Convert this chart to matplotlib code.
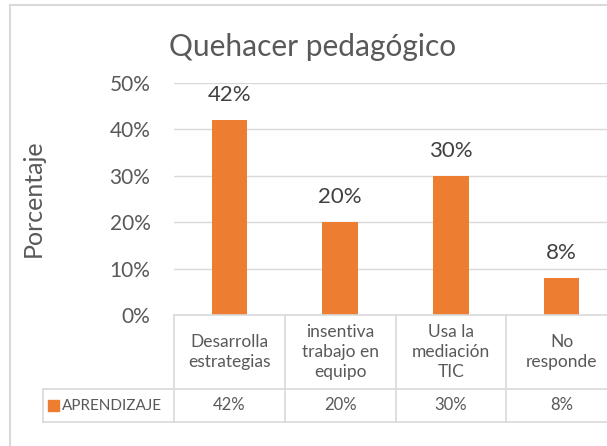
import matplotlib
matplotlib.use("Agg")
import matplotlib.pyplot as plt
from matplotlib.transforms import blended_transform_factory
from matplotlib.lines import Line2D
from matplotlib.patches import Rectangle

categories = ["Desarrolla\nestrategias", "insentiva\ntrabajo en\nequipo",
              "Usa la\nmediación\nTIC", "No\nresponde"]
values = [42, 20, 30, 8]
series_name = "APRENDIZAJE"
yticks = [0, 10, 20, 30, 40, 50]

W, H = 607, 446
plt.rcParams["font.family"] = ["Lato", "DejaVu Sans"]
fig = plt.figure(figsize=(W / 100, H / 100), dpi=100)

orange = "#ED7D31"
grid_c = "#D9D9D9"
text_c = "#595959"


def fx(px):
    return px / W


def fy(py):
    return 1 - py / H


# plot area in pixels (right side runs past the picture edge)
left, right, top, bottom = 174, 617, 83, 315
ax = fig.add_axes([fx(left), fy(bottom), fx(right - left), (bottom - top) / H])
x = list(range(len(values)))
ax.bar(x, values, width=0.32, color=orange, zorder=3)
ax.set_xlim(-0.5, len(values) - 0.5)
ax.set_ylim(0, 50)
ax.set_yticks(yticks)
ax.set_yticklabels([f"{t}%" for t in yticks])
ax.tick_params(axis="y", length=0, pad=17, labelsize=15, labelcolor=text_c)
ax.set_xticks([])
for s in ax.spines.values():
    s.set_visible(False)
ax.yaxis.grid(True, color=grid_c, linewidth=1)
ax.set_axisbelow(True)

for xi, v in zip(x, values):
    ax.annotate(f"{v}%", (xi, v), xytext=(0, 18), textcoords="offset points",
                ha="center", va="center", fontsize=16, color="#404040")

fig.text(fx(313), fy(47), "Quehacer pedagógico", ha="center", va="center",
         fontsize=21.5, color=text_c)
fig.text(fx(33), fy(198), "Porcentaje", ha="center", va="center",
         rotation=90, fontsize=18, color=text_c)

# data table under the axis
tr = blended_transform_factory(ax.transData, fig.transFigure)
y_top, y_mid, y_bot = fy(315), fy(389), fy(422)
n = len(values)
lkw = dict(color=grid_c, linewidth=1.2, clip_on=False)
fig.add_artist(Line2D([fx(left), fx(right)], [y_top, y_top], transform=fig.transFigure, **lkw))
fig.add_artist(Line2D([fx(43), fx(right)], [y_mid, y_mid], transform=fig.transFigure, **lkw))
fig.add_artist(Line2D([fx(43), fx(right)], [y_bot, y_bot], transform=fig.transFigure, **lkw))
fig.add_artist(Line2D([fx(43), fx(43)], [y_mid, y_bot], transform=fig.transFigure, **lkw))
for i in range(n + 1):
    fig.add_artist(Line2D([i - 0.5, i - 0.5], [y_top, y_bot], transform=tr, **lkw))

for xi, cat, v in zip(x, categories, values):
    fig.text(xi, (y_top + y_mid) / 2, cat, transform=tr, ha="center", va="center",
             fontsize=12.5, color=text_c, linespacing=1.3)
    fig.text(xi, (y_mid + y_bot) / 2, f"{v}%", transform=tr, ha="center",
             va="center", fontsize=12, color=text_c)

fig.add_artist(Rectangle((fx(48), fy(411)), fx(11), 11 / H, color=orange,
                         transform=fig.transFigure))
fig.text(fx(62), (y_mid + y_bot) / 2, series_name, ha="left", va="center",
         fontsize=11, color=text_c)

# chart border
fig.add_artist(Line2D([fx(10), fx(10)], [fy(5), fy(460)], transform=fig.transFigure,
                      color=grid_c, linewidth=1.5))
fig.add_artist(Line2D([fx(10), fx(620)], [fy(5), fy(5)], transform=fig.transFigure,
                      color=grid_c, linewidth=1.5))

fig.savefig("out.png", dpi=100)
